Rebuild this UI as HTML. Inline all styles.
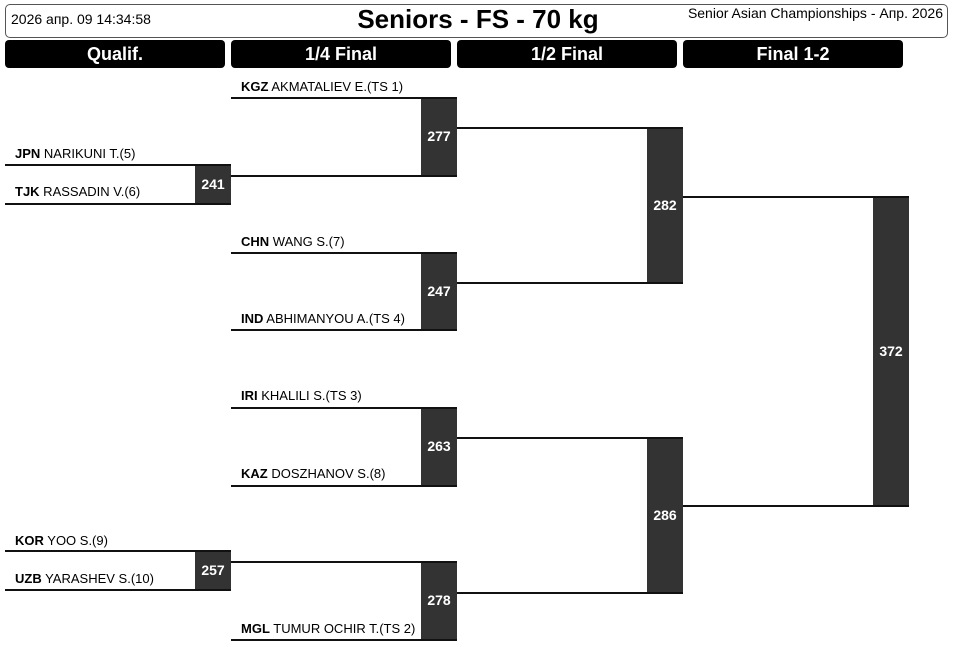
<!DOCTYPE html>
<html><head><meta charset="utf-8"><style>
body{margin:0;width:954px;height:647px;background:#fff;position:relative;overflow:hidden;font-family:"Liberation Sans",Arial,sans-serif;}
div{position:absolute;box-sizing:border-box;}
.h{background:#000;color:#fff;font-weight:bold;font-size:18px;text-align:center;line-height:28px;top:40px;height:28px;width:220px;border-radius:4px;}
.l{height:2px;background:#111;}
.b{background:#333;color:#fff;font-weight:bold;font-size:14px;width:36px;display:flex;align-items:center;justify-content:center;border-bottom:2px solid #111;border-top:2px solid #111;padding-bottom:2px;}
.t{font-size:13px;color:#000;white-space:nowrap;}
.t b{font-weight:bold;}
</style></head><body>
<div style="left:5px;top:4px;width:943px;height:34px;border:1px solid #555;border-radius:5px;"></div>
<div class="t" style="left:11px;top:11px;font-size:14px;">2026 апр. 09 14:34:58</div>
<div style="left:280px;width:396px;top:4px;text-align:center;font-weight:bold;font-size:26px;">Seniors - FS - 70 kg</div>
<div class="t" style="right:11px;top:5px;font-size:14px;">Senior Asian Championships - Апр. 2026</div>
<div class="h" style="left:5px">Qualif.</div>
<div class="h" style="left:231px">1/4 Final</div>
<div class="h" style="left:457px">1/2 Final</div>
<div class="h" style="left:683px">Final 1-2</div>

<div class="l" style="left:5px;top:164px;width:226px"></div>
<div class="l" style="left:5px;top:203px;width:226px"></div>
<div class="b" style="left:195px;top:164px;height:41px">241</div>
<div class="t" style="left:15px;top:146px"><b>JPN</b> NARIKUNI T.(5)</div>
<div class="t" style="left:15px;top:184px"><b>TJK</b> RASSADIN V.(6)</div>

<div class="l" style="left:5px;top:550px;width:226px"></div>
<div class="l" style="left:5px;top:589px;width:226px"></div>
<div class="b" style="left:195px;top:550px;height:41px">257</div>
<div class="t" style="left:15px;top:533px"><b>KOR</b> YOO S.(9)</div>
<div class="t" style="left:15px;top:571px"><b>UZB</b> YARASHEV S.(10)</div>

<div class="l" style="left:231px;top:97px;width:226px"></div>
<div class="l" style="left:231px;top:175px;width:226px"></div>
<div class="b" style="left:421px;top:97px;height:80px">277</div>
<div class="t" style="left:241px;top:79px"><b>KGZ</b> AKMATALIEV E.(TS 1)</div>

<div class="l" style="left:231px;top:252px;width:226px"></div>
<div class="l" style="left:231px;top:329px;width:226px"></div>
<div class="b" style="left:421px;top:252px;height:79px">247</div>
<div class="t" style="left:241px;top:234px"><b>CHN</b> WANG S.(7)</div>
<div class="t" style="left:241px;top:311px"><b>IND</b> ABHIMANYOU A.(TS 4)</div>

<div class="l" style="left:231px;top:407px;width:226px"></div>
<div class="l" style="left:231px;top:485px;width:226px"></div>
<div class="b" style="left:421px;top:407px;height:80px">263</div>
<div class="t" style="left:241px;top:388px"><b>IRI</b> KHALILI S.(TS 3)</div>
<div class="t" style="left:241px;top:466px"><b>KAZ</b> DOSZHANOV S.(8)</div>

<div class="l" style="left:231px;top:561px;width:226px"></div>
<div class="l" style="left:231px;top:639px;width:226px"></div>
<div class="b" style="left:421px;top:561px;height:80px">278</div>
<div class="t" style="left:241px;top:621px"><b>MGL</b> TUMUR OCHIR T.(TS 2)</div>

<div class="l" style="left:457px;top:127px;width:226px"></div>
<div class="l" style="left:457px;top:282px;width:226px"></div>
<div class="b" style="left:647px;top:127px;height:157px">282</div>
<div class="l" style="left:457px;top:437px;width:226px"></div>
<div class="l" style="left:457px;top:592px;width:226px"></div>
<div class="b" style="left:647px;top:437px;height:157px">286</div>

<div class="l" style="left:683px;top:196px;width:226px"></div>
<div class="l" style="left:683px;top:505px;width:226px"></div>
<div class="b" style="left:873px;top:196px;height:311px">372</div>
</body></html>
